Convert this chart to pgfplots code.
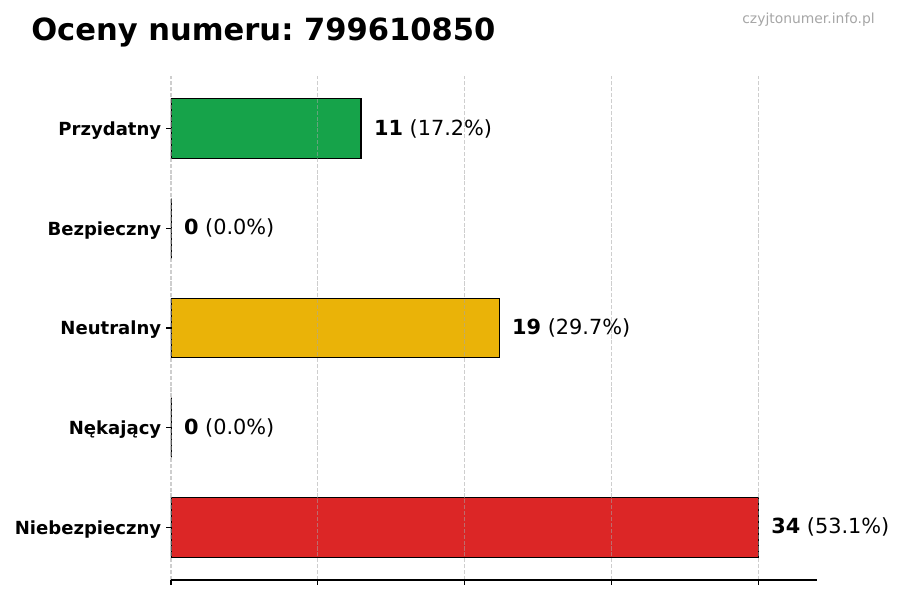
\documentclass[border=0pt]{standalone}
\usepackage{pgfplots}
\pgfplotsset{compat=1.18}
\usepackage{fontspec}
\setmainfont{DejaVu Sans}
\frenchspacing
\definecolor{cgreen}{HTML}{16A34A}
\definecolor{cyellow}{HTML}{EAB308}
\definecolor{cred}{HTML}{DC2626}
\begin{document}
\begin{tikzpicture}
\path[use as bounding box] (0,0) rectangle (648pt,432pt);
\node[anchor=base west, inner sep=0pt, font=\fontsize{22}{26}\selectfont\bfseries] at (22.3pt,402.5pt) {Oceny numeru: 799610850};
\node[anchor=base east, inner sep=0pt, font=\fontsize{10}{12}\selectfont, text=black!35] at (630pt,415.2pt) {czyjtonumer.info.pl};
\begin{axis}[
  at={(123.12pt,14.4pt)}, anchor=south west,
  scale only axis, width=465.12pt, height=362.88pt,
  xmin=0, xmax=37.4, ymin=-0.53, ymax=4.53,
  xbar, bar width=0.6, bar shift=0pt,
  axis on top,
  axis x line*=bottom, axis y line*=left,
  y axis line style={draw=none},
  x axis line style={black, line width=0.8pt},
  xtick={0,8.5,17,25.5,34}, xticklabels={},
  ytick={0,1,2,3,4},
  yticklabels={Niebezpieczny,N\k{e}kaj\k{a}cy,Neutralny,Bezpieczny,Przydatny},
  yticklabel style={font=\fontsize{13}{15}\selectfont\bfseries, yshift=-1.4pt},
  tick align=outside, major tick length=3.5pt,
  tick style={black, line width=0.8pt},
  xmajorgrids, major grid style={black!35, opacity=0.55, dash pattern=on 2.96pt off 1.28pt, line width=0.8pt},
  every node near coord/.append style={anchor=west, inner sep=0pt, xshift=9pt, font=\fontsize{15}{18}\selectfont, text=black},
]
\addplot[fill=cred, draw=black, line width=0.8pt, nodes near coords={\textbf{34} (53.1\%)}] coordinates {(34,0)};
\addplot[fill=cred, draw=black, line width=0.8pt, nodes near coords={\textbf{0} (0.0\%)}] coordinates {(0,1)};
\addplot[fill=cyellow, draw=black, line width=0.8pt, nodes near coords={\textbf{19} (29.7\%)}] coordinates {(19,2)};
\addplot[fill=cgreen, draw=black, line width=0.8pt, nodes near coords={\textbf{0} (0.0\%)}] coordinates {(0,3)};
\addplot[fill=cgreen, draw=black, line width=0.8pt, nodes near coords={\textbf{11} (17.2\%)}] coordinates {(11,4)};
\end{axis}
\end{tikzpicture}
\end{document}
